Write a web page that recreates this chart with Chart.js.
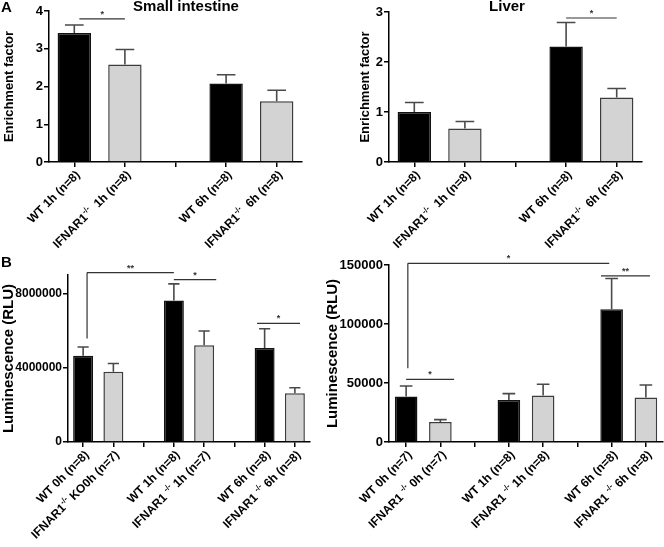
<!DOCTYPE html>
<html>
<head>
<meta charset="utf-8">
<script src="https://cdn.jsdelivr.net/npm/chart.js@4/dist/chart.umd.min.js"></script>
<style>
html,body{margin:0;padding:0;background:#fff;}
#wrap{position:relative;width:664px;height:547px;overflow:hidden;background:#fff;}
canvas{position:absolute;}
.txt{position:absolute;font-family:"Liberation Sans",Arial,sans-serif;font-weight:bold;color:#000;white-space:nowrap;line-height:1;}
</style>
</head>
<body>
<div id="wrap">
  <canvas id="cA1" width="330" height="265" style="left:0px;top:0px"></canvas>
  <canvas id="cA2" width="309" height="265" style="left:355px;top:0px"></canvas>
  <canvas id="cB1" width="330" height="297" style="left:0px;top:250px"></canvas>
  <canvas id="cB2" width="342" height="297" style="left:322px;top:250px"></canvas>
  <div class="txt" style="left:1px;top:-1px;font-size:15px;">A</div>
  <div class="txt" style="left:1px;top:254px;font-size:15px;">B</div>
  <div class="txt" style="left:186px;top:-2px;font-size:15px;transform:translateX(-50%);">Small intestine</div>
  <div class="txt" style="left:507px;top:-2px;font-size:15px;transform:translateX(-50%);">Liver</div>
</div>
<script>
// ---------- data ----------
// Panel A, small intestine
const siLabels = ['WT 1h (n=8)', 'IFNAR1^{-/-}  1h (n=8)', '', 'WT 6h (n=8)', 'IFNAR1^{-/-}  6h (n=8)'];
const siGroups = ['WT', 'KO', null, 'WT', 'KO'];
const siMeans  = [3.42, 2.58, null, 2.08, 1.61];
const siUpper  = [3.63, 2.98, null, 2.31, 1.90];
const siTicks  = [0, 1, 2, 3, 4];

// Panel A, liver
const lvLabels = ['WT 1h (n=8)', 'IFNAR1^{-/-}  1h (n=8)', '', 'WT 6h (n=8)', 'IFNAR1^{-/-}  6h (n=8)'];
const lvGroups = ['WT', 'KO', null, 'WT', 'KO'];
const lvMeans  = [1.00, 0.67, null, 2.31, 1.29];
const lvUpper  = [1.19, 0.81, null, 2.79, 1.47];
const lvTicks  = [0, 1, 2, 3];

// Panel B, left
const b1Labels = ['WT 0h (n=8)', 'IFNAR1^{-/-} KO0h (n=7)', '', 'WT 1h (n=8)', 'IFNAR1 ^{-/-} 1h (n=7)', '', 'WT 6h (n=8)', 'IFNAR1 ^{-/-} 6h (n=8)'];
const b1Groups = ['WT', 'KO', null, 'WT', 'KO', null, 'WT', 'KO'];
const b1Means  = [4650000, 3780000, null, 7620000, 5220000, null, 5060000, 2630000];
const b1Upper  = [5120000, 4230000, null, 8520000, 5980000, null, 6100000, 2920000];
const b1Ticks  = [0, 4000000, 8000000];

// Panel B, right
const b2Labels = ['WT 0h (n=7)', 'IFNAR1 ^{-/-} 0h (n=7)', '', 'WT 1h (n=8)', 'IFNAR1 ^{-/-} 1h (n=8)', '', 'WT 6h (n=8)', 'IFNAR1 ^{-/-} 6h (n=8)'];
const b2Groups = ['WT', 'KO', null, 'WT', 'KO', null, 'WT', 'KO'];
const b2Means  = [38500, 17000, null, 35600, 39500, null, 112500, 37800];
const b2Upper  = [47500, 19000, null, 41000, 48900, null, 138500, 48300];
const b2Ticks  = [0, 50000, 100000, 150000];

// ---------- helpers ----------
const FAMILY = '"Liberation Sans", Arial, sans-serif';
const FILL = {WT: '#000000', KO: '#d3d3d3'};
const EDGE = {WT: '#111111', KO: '#3c3c3c'};

function parseLabel(s) {
  const segs = [];
  const re = /\^\{([^}]*)\}/g;
  let last = 0, m;
  while ((m = re.exec(s)) !== null) {
    if (m.index > last) segs.push({t: s.slice(last, m.index), sup: false});
    segs.push({t: m[1], sup: true});
    last = re.lastIndex;
  }
  if (last < s.length) segs.push({t: s.slice(last), sup: false});
  return segs;
}

const errPlugin = {
  id: 'errbars',
  afterDatasetsDraw(chart, args, opts) {
    const ctx = chart.ctx, ys = chart.scales.y;
    const meta = chart.getDatasetMeta(0);
    ctx.save();
    ctx.strokeStyle = '#4a4a4a';
    ctx.lineWidth = 1.6;
    meta.data.forEach((bar, i) => {
      const up = opts.upper[i];
      if (up == null) return;
      const yTop = ys.getPixelForValue(up);
      const half = bar.width * 0.28;
      ctx.beginPath();
      ctx.moveTo(bar.x, bar.y);
      ctx.lineTo(bar.x, yTop);
      ctx.moveTo(bar.x - half, yTop);
      ctx.lineTo(bar.x + half, yTop);
      ctx.stroke();
    });
    ctx.restore();
  }
};

const sigPlugin = {
  id: 'sig',
  afterDraw(chart, args, opts) {
    const ctx = chart.ctx, xs = chart.scales.x, ys = chart.scales.y;
    ctx.save();
    ctx.strokeStyle = '#333333';
    ctx.lineWidth = 1.2;
    ctx.fillStyle = '#333333';
    ctx.font = 'bold 9px ' + FAMILY;
    ctx.textAlign = 'center';
    ctx.textBaseline = 'alphabetic';
    (opts.items || []).forEach(it => {
      const x1 = xs.getPixelForValue(it.x1), x2 = xs.getPixelForValue(it.x2);
      const y = ys.getPixelForValue(it.y);
      ctx.beginPath();
      ctx.moveTo(x1, y); ctx.lineTo(x2, y);
      if (it.drop != null) {
        ctx.moveTo(x1, y); ctx.lineTo(x1, ys.getPixelForValue(it.drop));
      }
      ctx.stroke();
      ctx.fillText(it.text, (x1 + x2) / 2, y - 2);
    });
    ctx.restore();
  }
};

const xLabelPlugin = {
  id: 'xlab',
  afterDraw(chart, args, opts) {
    const ctx = chart.ctx, xs = chart.scales.x;
    const y0 = xs.top;
    const main = 'bold ' + opts.size + 'px ' + FAMILY;
    const sup = 'bold ' + opts.supSize + 'px ' + FAMILY;
    ctx.save();
    ctx.fillStyle = '#000';
    ctx.textBaseline = 'middle';
    ctx.textAlign = 'left';
    chart.data.labels.forEach((lab, i) => {
      if (!lab) return;
      const segs = parseLabel(lab);
      let total = 0;
      segs.forEach(sg => { ctx.font = sg.sup ? sup : main; sg.w = ctx.measureText(sg.t).width; total += sg.w; });
      ctx.save();
      ctx.translate(xs.getPixelForValue(i) + opts.dx, y0 + opts.dy);
      ctx.rotate(-Math.PI / 4);
      let cx = -total;
      segs.forEach(sg => {
        ctx.font = sg.sup ? sup : main;
        ctx.fillText(sg.t, cx, sg.sup ? -opts.supRise : 0);
        cx += sg.w;
      });
      ctx.restore();
    });
    ctx.restore();
  }
};

function makeChart(id, c) {
  const colors = c.groups.map(g => g ? FILL[g] : 'rgba(0,0,0,0)');
  const edges = c.groups.map(g => g ? EDGE[g] : 'rgba(0,0,0,0)');
  return new Chart(document.getElementById(id), {
    type: 'bar',
    data: {
      labels: c.labels,
      datasets: [{
        data: c.means,
        backgroundColor: colors,
        borderColor: edges,
        borderWidth: 1.5,
        borderSkipped: 'bottom',
        barPercentage: 0.66,
        categoryPercentage: 1.0
      }]
    },
    options: {
      responsive: false,
      animation: false,
      devicePixelRatio: 1,
      events: [],
      layout: {padding: c.padding},
      plugins: {
        legend: {display: false},
        tooltip: {enabled: false},
        title: {display: false},
        errbars: {upper: c.upper},
        sig: {items: c.sig},
        xlab: c.xlab
      },
      scales: {
        x: {
          grid: {display: true, drawOnChartArea: false, drawTicks: true, tickLength: 5, color: '#000', lineWidth: 1.5, offset: false},
          border: {display: true, color: '#000', width: 1.5},
          ticks: {display: false},
          afterFit: s => { s.height = c.xHeight; }
        },
        y: {
          min: 0,
          max: c.max,
          afterBuildTicks: ax => { ax.ticks = c.ticks.map(v => ({value: v})); },
          ticks: {
            color: '#000',
            padding: 1,
            font: {family: FAMILY, size: c.tickSize, weight: 'bold'},
            callback: v => String(v)
          },
          grid: {display: true, drawOnChartArea: false, drawTicks: true, tickLength: 5, color: '#000', lineWidth: 1.5},
          border: {display: true, color: '#000', width: 1.5},
          title: {
            display: true,
            text: c.yTitle,
            color: '#000',
            font: {family: FAMILY, size: c.titleSize, weight: 'bold'},
            padding: {top: c.titlePad, bottom: 0}
          },
          afterFit: s => { s.width = c.yWidth; }
        }
      }
    },
    plugins: [errPlugin, sigPlugin, xLabelPlugin]
  });
}

makeChart('cA1', {
  labels: siLabels, groups: siGroups, means: siMeans, upper: siUpper, ticks: siTicks, max: 4,
  yTitle: 'Enrichment factor', tickSize: 13, titleSize: 13, titlePad: 2,
  yWidth: 49, xHeight: 103, padding: {left: 0, top: 11, right: 28, bottom: 0},
  sig: [{x1: 0.1, x2: 1, y: 3.79, text: '*'}],
  xlab: {size: 12, supSize: 8, supRise: 4, dx: 4, dy: 11}
});

makeChart('cA2', {
  labels: lvLabels, groups: lvGroups, means: lvMeans, upper: lvUpper, ticks: lvTicks, max: 3,
  yTitle: 'Enrichment factor', tickSize: 13, titleSize: 13, titlePad: 3,
  yWidth: 34, xHeight: 103, padding: {left: 0, top: 12, right: 22, bottom: 0},
  sig: [{x1: 3, x2: 4, y: 2.88, text: '*'}],
  xlab: {size: 12, supSize: 8, supRise: 4, dx: 4, dy: 11}
});

makeChart('cB1', {
  labels: b1Labels, groups: b1Groups, means: b1Means, upper: b1Upper, ticks: b1Ticks, max: 9000000,
  yTitle: 'Luminescence (RLU)', tickSize: 12, titleSize: 15, titlePad: 0,
  yWidth: 68, xHeight: 105, padding: {left: 0, top: 25, right: 20, bottom: 0},
  sig: [
    {x1: 0.13, x2: 3, y: 9130000, text: '**', drop: 5580000},
    {x1: 3, x2: 4.4, y: 8750000, text: '*'},
    {x1: 5.75, x2: 7.17, y: 6390000, text: '*'}
  ],
  xlab: {size: 12, supSize: 8, supRise: 4, dx: 4, dy: 11}
});

makeChart('cB2', {
  labels: b2Labels, groups: b2Groups, means: b2Means, upper: b2Upper, ticks: b2Ticks, max: 150000,
  yTitle: 'Luminescence (RLU)', tickSize: 13, titleSize: 15, titlePad: 2,
  yWidth: 67, xHeight: 105, padding: {left: 0, top: 15, right: 1, bottom: 0},
  sig: [
    {x1: 0.05, x2: 5.93, y: 151400, text: '*', drop: 62500},
    {x1: 5.69, x2: 7.12, y: 140700, text: '**'},
    {x1: 0, x2: 1.4, y: 53100, text: '*'}
  ],
  xlab: {size: 12, supSize: 8, supRise: 4, dx: 4, dy: 11}
});
</script>
</body>
</html>
